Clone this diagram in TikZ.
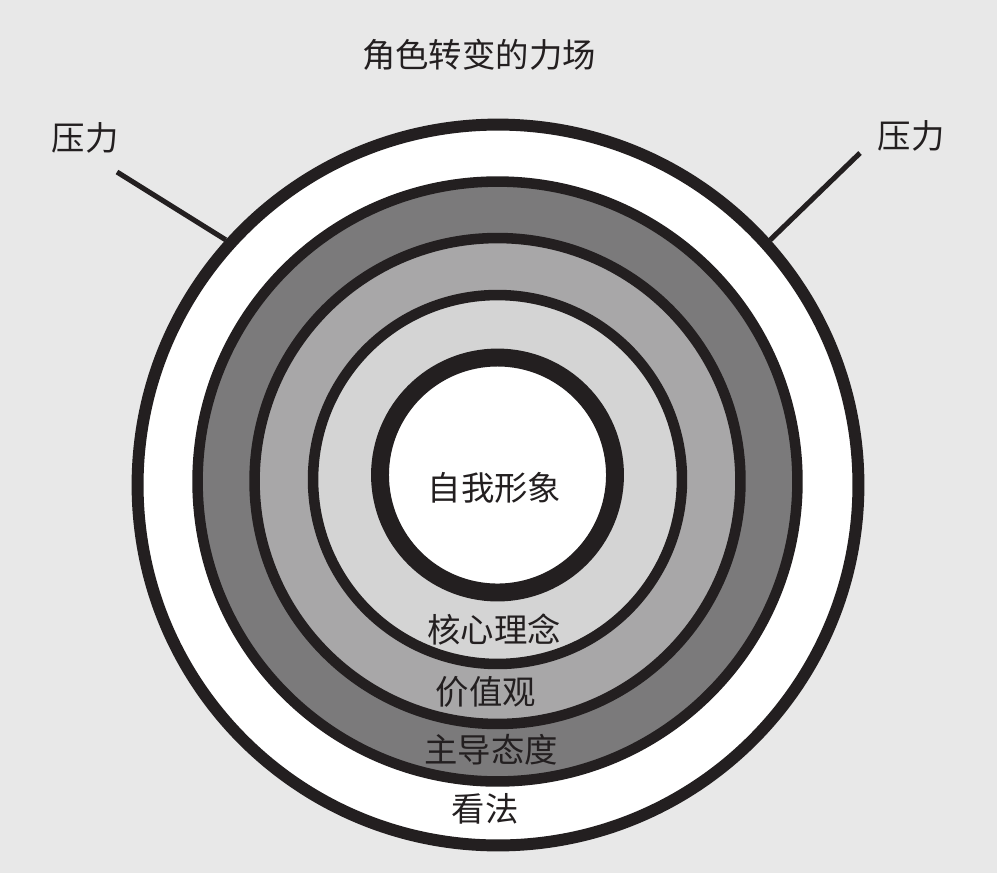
\documentclass[tikz,border=0pt]{standalone}
\usepackage{fontspec}
\newfontfamily\cjk{Noto Sans CJK SC}

\definecolor{bgGray}{HTML}{E8E8E8}
\definecolor{inkBlack}{HTML}{231F20}
\definecolor{darkBand}{HTML}{7B7A7B}
\definecolor{midBand}{HTML}{A8A7A8}
\definecolor{lightBand}{HTML}{D4D4D4}

\tikzset{
    ring/.style={circle, draw=inkBlack, line width=6pt, inner sep=0pt},
    ringtext/.style={font=\cjk\fontsize{19}{22}\selectfont, text=inkBlack, inner sep=0pt},
    pointer/.style={draw=inkBlack, line width=2.9pt}
}

\begin{document}
\begin{tikzpicture}[x=0.02cm, y=-0.02cm]
        % Background
        \fill[bgGray] (0,0) rectangle (997,873);
        \useasboundingbox (0,0) rectangle (997,873);

        % Rings, outside in
        \node[ring, fill=white, line width=6.8pt, minimum size=14.42cm] at (498,485) (view) {};
        \node[ring, fill=darkBand, minimum size=12cm] at (497.5,481.5) (attitude) {};
        \node[ring, fill=midBand, minimum size=9.72cm] at (497.5,481) (values) {};
        \node[ring, fill=lightBand, minimum size=7.38cm] at (497.5,479.5) (belief) {};
        \node[ring, fill=white, line width=10.2pt, minimum size=4.7cm] at (497.5,475) (self) {};

        % Ring labels
        \node[ringtext] at (494.5,488) (t-self) {自我形象};
        \node[ringtext] at (494,630) (t-belief) {核心理念};
        \node[ringtext] at (486,692) (t-values) {价值观};
        \node[ringtext] at (491,750) (t-attitude) {主导态度};
        \node[ringtext] at (485,809) (t-view) {看法};

        % Title and pressure
        \node[ringtext] at (479,55) (title) {角色转变的力场};
        \node[ringtext] at (85,138) (l-press) {压力};
        \node[ringtext] at (911,136) (r-press) {压力};
        \coordinate (l-end) at (117,172);
        \coordinate (r-end) at (860,153);
        \draw[pointer] (l-end) -- (view.138.4);
        \draw[pointer] (r-end) -- (view.42.8);
\end{tikzpicture}
\end{document}
